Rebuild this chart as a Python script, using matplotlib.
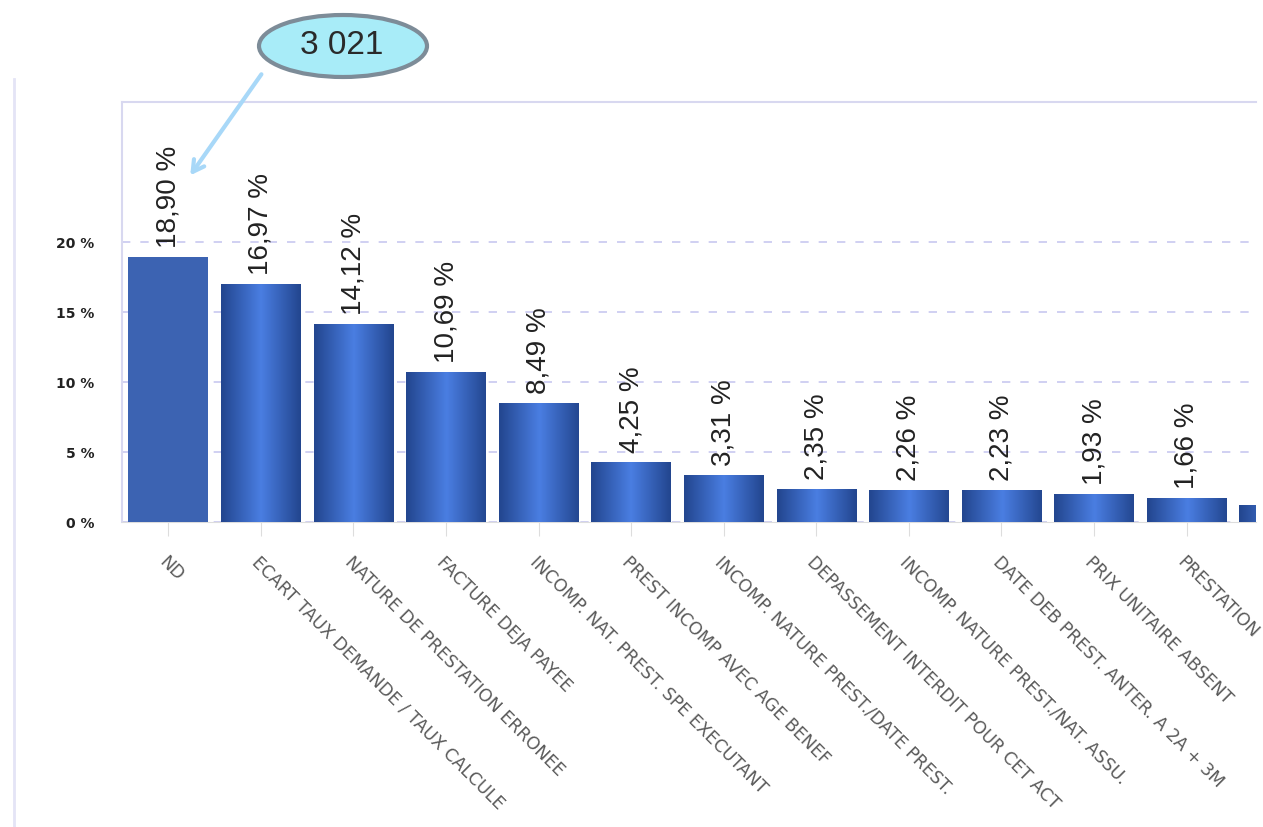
import numpy as np
import matplotlib.pyplot as plt
from matplotlib.patches import Ellipse
from matplotlib.colors import LinearSegmentedColormap

categories = ['ND', 'ECART TAUX DEMANDE / TAUX CALCULE', 'NATURE DE PRESTATION ERRONEE',
              'FACTURE DEJA PAYEE', 'INCOMP. NAT. PREST. SPE EXECUTANT',
              'PREST INCOMP AVEC AGE BENEF', 'INCOMP. NATURE PREST./DATE PREST.',
              'DEPASSEMENT INTERDIT POUR CET ACT', 'INCOMP. NATURE PREST./NAT. ASSU.',
              'DATE DEB PREST. ANTER. A 2A + 3M', 'PRIX UNITAIRE ABSENT', 'PRESTATION', '']
values = [18.90, 16.97, 14.12, 10.69, 8.49, 4.25, 3.31, 2.35, 2.26, 2.23, 1.93, 1.66, 1.2]
labels = ['18,90 %', '16,97 %', '14,12 %', '10,69 %', '8,49 %', '4,25 %', '3,31 %',
          '2,35 %', '2,26 %', '2,23 %', '1,93 %', '1,66 %', '']
total = '3 021'
yticks = [0, 5, 10, 15, 20]

fig = plt.figure(figsize=(12.63, 8.28), dpi=100)
ax = fig.add_axes([0.0966, 0.3684, 0.8979, 0.5072])
xmax = 11.75

x = np.arange(len(values))
bars = ax.bar(x, values, width=0.86, color='#3c63b2', zorder=3)

# horizontal gradient on the bars (first one stays flat)
grad = np.linspace(0, 1, 64)
grad = 1 - np.abs(grad - 0.5) * 2
grad = np.vstack([grad, grad])
cmap = LinearSegmentedColormap.from_list('bb', ['#23468f', '#4a7ee2'])
for i, b in enumerate(bars):
    if i == 0:
        continue
    b.set_facecolor('none')
    x0 = b.get_x()
    x1 = min(x0 + b.get_width(), xmax)
    im = ax.imshow(grad[:, :int(64 * (x1 - x0) / b.get_width())], cmap=cmap, aspect='auto',
                   zorder=3, vmin=0, vmax=1, extent=[x0, x1, 0, b.get_height()])

for xi, v, lab in zip(x, values, labels):
    ax.text(xi, v + 0.75, lab, rotation=90, ha='center', va='bottom',
            fontsize=20, family='Liberation Sans', color='#222222', zorder=4)

ax.set_yticks(yticks)
ax.set_yticklabels([f'{t} %' for t in yticks], fontsize=10, color='#222222', fontweight='bold')
ax.tick_params(axis='y', length=0, pad=20)
ax.set_xticks(x)
ax.set_xticklabels(categories, rotation=-45, ha='left', va='top', rotation_mode='anchor',
                   fontsize=12.5, color='#5a5a5a')
ax.tick_params(axis='x', length=10, color='#dddddd', pad=12)
ax.set_xlim(-0.5, xmax)
ax.set_ylim(0, 30)

ax.grid(axis='y', linestyle=(0, (5, 6)), color='#c8c8f0', linewidth=1.2, zorder=0)
ax.set_axisbelow(True)
for s in ['left', 'top']:
    ax.spines[s].set_color('#d8d8f0')
    ax.spines[s].set_linewidth(1.5)
ax.spines['right'].set_visible(False)
ax.spines['bottom'].set_color('#dddddd')

# outer frame line on the left
fig.add_artist(plt.Line2D([14 / 1263, 14 / 1263], [0, 1 - 80 / 828],
                          transform=fig.transFigure, color='#e4e4f6', linewidth=2))

# callout
ell = Ellipse((343 / 1263, 1 - 47 / 828), 168 / 1263, 62 / 828, transform=fig.transFigure,
              facecolor='#a8ecf8', edgecolor='#7d8c98', linewidth=3)
fig.add_artist(ell)
fig.text(342 / 1263, 1 - 46 / 828, total, ha='center', va='center', fontsize=24,
         family='Liberation Sans', color='#2a2a2a')
ax.annotate('', xy=(0.22, 24.6), xycoords='data',
            xytext=(263 / 1263, 1 - 73 / 828), textcoords='figure fraction',
            annotation_clip=False,
            arrowprops=dict(arrowstyle='->,head_length=0.8,head_width=0.45',
                            color='#a8d8f8', linewidth=3))

fig.savefig('out.png', dpi=100)
